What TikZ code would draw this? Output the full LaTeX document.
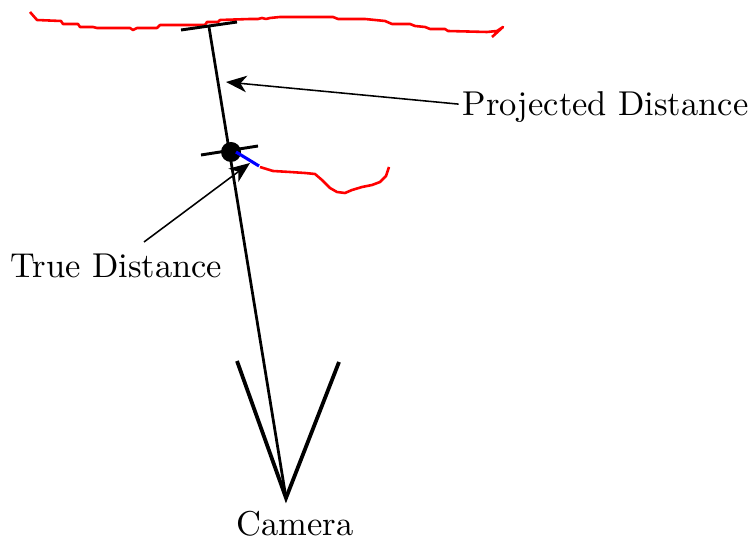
\documentclass[tikz,border=0pt]{standalone}
\usetikzlibrary{arrows.meta}
\begin{document}
\begin{tikzpicture}[x=0.29pt, y=-0.29pt,
  frust/.style={line width=1.1pt, black},
  ray/.style={line width=0.8pt, black},
  tick/.style={line width=0.85pt, black},
  scan/.style={line width=0.75pt, red, line join=round},
  arr/.style={-{Stealth[length=6pt, width=4.8pt, inset=1.8pt]}, line width=0.45pt},
  lbl/.style={inner sep=0pt}
]
  \useasboundingbox (0,0) rectangle (750,539);
  % camera and its viewing ray
  \coordinate (cam0) at (286,498);
  \coordinate (camL) at (237,361);
  \coordinate (camR) at (339,362);
  \coordinate (far) at (209,27);
  \draw[frust] (camL) -- (cam0) -- (camR);
  \draw[ray] (cam0) -- (far);
  \node[lbl, anchor=base] (cam) at (295,535) {Camera};
  % far surface
  \draw[scan] (30,12) -- (37,20) -- (61,21) -- (63,24) -- (78,24) -- (80,27)
    -- (93,27) -- (97,28) -- (130,28) -- (133,30) -- (137,28) -- (157,28)
    -- (160,25) -- (205,25) -- (207,22) -- (218,22) -- (220,20) -- (250,19)
    -- (258,19) -- (262,18) -- (266,19) -- (270,18) -- (280,17) -- (333,17)
    -- (338,19) -- (365,19) -- (385,21) -- (392,24) -- (410,24) -- (415,26)
    -- (425,27) -- (430,29) -- (445,29) -- (448,31) -- (487,32) -- (497,31)
    -- (503,27) -- (492,37);
  \draw[tick] (181,30) -- (237,22);
  % near object
  \node[circle, fill=black, inner sep=0pt, minimum size=5.8pt] (obj) at (231,152) {};
  \draw[tick] (201,155) -- (258,146);
  \draw[line width=0.9pt, blue] (236,152) -- (259,166);
  \draw[scan] (260,167) -- (273,171) -- (290,172) -- (305,173) -- (315,174)
    -- (322,180) -- (330,188) -- (337,192) -- (345,193) -- (352,190)
    -- (362,187) -- (372,185) -- (380,182) -- (386,176) -- (389,167);
  % labels
  \node[lbl, anchor=base west] (pd) at (462,116) {Projected Distance};
  \node[lbl, anchor=base west] (td) at (10,278) {True Distance};
  \coordinate (pdhead) at (226,82);
  \coordinate (tdtail) at (144,242);
  \coordinate (tdhead) at (250,163);
  \draw[arr] ([shift={(-1pt,1pt)}]pd.west) -- (pdhead);
  \draw[arr] (tdtail) -- (tdhead);
\end{tikzpicture}
\end{document}
